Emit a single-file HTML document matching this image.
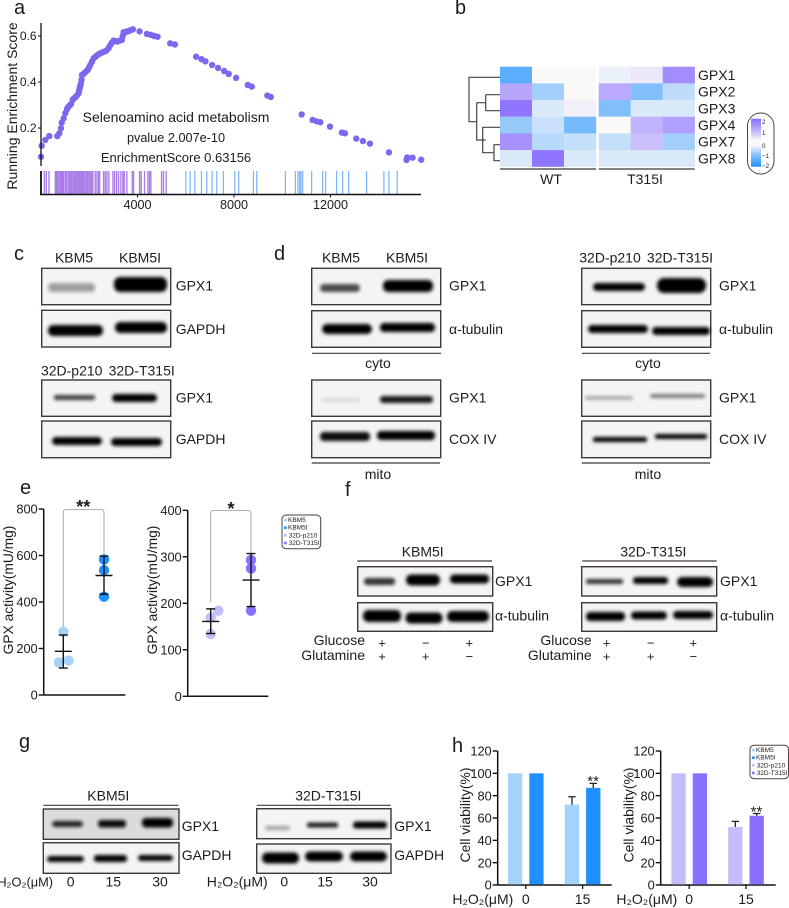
<!DOCTYPE html>
<html><head><meta charset="utf-8"><title>GPX1 figure</title>
<style>
html,body{margin:0;padding:0;background:#fff}
svg{display:block;filter:blur(.3px)}
text{font-family:"Liberation Sans",sans-serif;fill:#1c1c1c}
.pl{font-size:20px}
.lb{font-size:14px}
.tk{font-size:12.8px}
.fr{stroke:#3f3836;stroke-width:1.4;fill:#f4f4f4}
.bd{filter:url(#blur);fill:#050505}
.hl{stroke:#3f3836;stroke-width:1.2}
.pm{font-size:13px;text-anchor:middle}
.m{text-anchor:middle}
.e{text-anchor:end}
</style></head>
<body>
<svg id="fig" width="789" height="908" viewBox="0 0 789 908" xmlns="http://www.w3.org/2000/svg">
<defs>
<filter id="blur" x="-30%" y="-100%" width="160%" height="300%"><feGaussianBlur stdDeviation="1.9"/></filter>
<linearGradient id="colorbar-grad" x1="0" y1="0" x2="0" y2="1">
<stop offset="0" stop-color="#8a6eff"/><stop offset=".25" stop-color="#c2b3fb"/><stop offset=".45" stop-color="#faf9f8"/><stop offset=".55" stop-color="#faf9f8"/><stop offset=".75" stop-color="#8cc4fc"/><stop offset="1" stop-color="#1e90ff"/>
</linearGradient>
</defs>

<text class="pl" x="14" y="14">a</text>
<text class="pl" x="455" y="14">b</text>
<text class="pl" x="14" y="260">c</text>
<text class="pl" x="274" y="260">d</text>
<text class="pl" x="20" y="494">e</text>
<text class="pl" x="345" y="496">f</text>
<text class="pl" x="19" y="748">g</text>
<text class="pl" x="452" y="752">h</text>

<!-- panel a -->
<g id="panel-a">
<text transform="translate(17,106) rotate(-90)" class="m" style="font-size:14px">Running Enrichment Score</text>
<text x="176" y="122" class="m" style="font-size:14px">Selenoamino acid metabolism</text>
<text x="176" y="142" class="m" style="font-size:12.7px">pvalue 2.007e-10</text>
<text x="176" y="162" class="m" style="font-size:13px">EnrichmentScore 0.63156</text>
</g>

<!-- panel b -->
<g id="panel-b">
<path d="M500 77.3H469V121.7H476.7M476.7 102.7V140H485.7M485.7 94.7H500M485.7 110.7H500M476.7 102.7H485.7V94.7M485.7 94.7V110.7M476.7 140H482.7V127.3H500M482.7 127.3V152.7H494V144.7H500M494 144.7V160.7H500" fill="none" stroke="#444" stroke-width="1.2"/>
<line class="hl" x1="500" y1="169" x2="596" y2="169"/>
<line class="hl" x1="598.7" y1="169" x2="694.7" y2="169"/>
<text x="551" y="184" class="m lb">WT</text>
<text x="645" y="184" class="m lb">T315I</text>
<rect x="747.5" y="113" width="26.5" height="61" rx="13" fill="#fff" stroke="#4a4240"/>
<rect x="751" y="118.7" width="10" height="48" fill="url(#colorbar-grad)"/>
<text x="762" y="124" style="font-size:6.2px">2</text>
<text x="762" y="135" style="font-size:6.2px">1</text>
<text x="762" y="148" style="font-size:6.2px">0</text>
<text x="762" y="158" style="font-size:6.2px">−1</text>
<text x="762" y="168" style="font-size:6.2px">−2</text>
</g>

<!-- panel c -->
<g id="panel-c">
<text x="74" y="262.7" class="m lb">KBM5</text>
<text x="140" y="262.7" class="m lb">KBM5I</text>
<rect class="fr" x="41.7" y="268.3" width="129" height="36.4"/>
<rect class="bd" x="48" y="283" width="47" height="9" rx="4" opacity=".35"/>
<rect class="bd" x="114" y="277" width="53" height="15" rx="6"/>
<rect class="fr" x="41.7" y="310.3" width="129" height="36.7"/>
<rect class="bd" x="48" y="325" width="55" height="11" rx="5"/>
<rect class="bd" x="115" y="322" width="52" height="11" rx="5"/>
<text x="71.7" y="375.7" class="m lb">32D-p210</text>
<text x="141.7" y="375.7" class="m lb">32D-T315I</text>
<rect class="fr" x="41.7" y="380" width="129" height="36.3"/>
<rect class="bd" x="54" y="395" width="41" height="5" rx="2" opacity=".75"/>
<rect class="bd" x="112" y="394" width="45" height="8" rx="4"/>
<rect class="fr" x="41.7" y="421" width="129" height="36.7"/>
<rect class="bd" x="52" y="437" width="50" height="8" rx="4"/>
<rect class="bd" x="111" y="438" width="51" height="8" rx="4"/>
<text x="175.7" y="290.7" class="lb">GPX1</text>
<text x="175.7" y="334" class="lb">GAPDH</text>
<text x="175.7" y="402.7" class="lb">GPX1</text>
<text x="175.7" y="444" class="lb">GAPDH</text>
</g>

<!-- panel d -->
<g id="panel-d">
<text x="341" y="262.7" class="m lb">KBM5</text>
<text x="407" y="262.7" class="m lb">KBM5I</text>
<rect class="fr" x="311.7" y="268.3" width="129" height="36.4"/>
<rect class="bd" x="320" y="284" width="40" height="8" rx="4" opacity=".7"/>
<rect class="bd" x="383" y="280" width="50" height="12" rx="5"/>
<rect class="fr" x="311.7" y="310.7" width="129" height="36.6"/>
<rect class="bd" x="322" y="324" width="50" height="10" rx="5"/>
<rect class="bd" x="380" y="323" width="55" height="9" rx="4"/>
<line class="hl" x1="312" y1="353.3" x2="441" y2="353.3"/>
<text x="378" y="368" class="m lb">cyto</text>
<rect class="fr" x="311.7" y="380" width="129" height="36.3"/>
<rect class="bd" x="322" y="398" width="38" height="4" rx="2" opacity=".1"/>
<rect class="bd" x="380" y="396" width="53" height="7" rx="3" opacity=".9"/>
<rect class="fr" x="311.7" y="421" width="129" height="36.7"/>
<rect class="bd" x="320" y="432" width="50" height="9" rx="4" opacity=".95"/>
<rect class="bd" x="377" y="431" width="58" height="9" rx="4"/>
<line class="hl" x1="311.7" y1="463" x2="440" y2="463"/>
<text x="378" y="479" class="m lb">mito</text>
<text x="449" y="290.7" class="lb">GPX1</text>
<text x="449" y="334" class="lb">α-tubulin</text>
<text x="449" y="402.7" class="lb">GPX1</text>
<text x="449" y="444" class="lb">COX IV</text>

<text x="610" y="262.7" class="m lb">32D-p210</text>
<text x="680" y="262.7" class="m lb">32D-T315I</text>
<rect class="fr" x="581.7" y="268.3" width="129" height="36.4"/>
<rect class="bd" x="593" y="283" width="52" height="8" rx="4"/>
<rect class="bd" x="657" y="278" width="49" height="15" rx="7"/>
<rect class="fr" x="581.7" y="310.7" width="129" height="36.6"/>
<rect class="bd" x="588" y="325" width="60" height="8" rx="4"/>
<rect class="bd" x="652" y="327" width="58" height="8" rx="4"/>
<line class="hl" x1="582" y1="353.3" x2="710" y2="353.3"/>
<text x="648" y="368" class="m lb">cyto</text>
<rect class="fr" x="581.7" y="380" width="129" height="36.3"/>
<rect class="bd" x="585" y="396" width="48" height="4" rx="2" opacity=".3"/>
<rect class="bd" x="650" y="394" width="55" height="4" rx="2" opacity=".5"/>
<rect class="fr" x="581.7" y="421" width="129" height="36.7"/>
<rect class="bd" x="593" y="437" width="54" height="5" rx="2"/>
<rect class="bd" x="655" y="434" width="52" height="5" rx="2"/>
<line class="hl" x1="581.7" y1="463" x2="710" y2="463"/>
<text x="648" y="479" class="m lb">mito</text>
<text x="719" y="290.7" class="lb">GPX1</text>
<text x="719" y="334" class="lb">α-tubulin</text>
<text x="719" y="402.7" class="lb">GPX1</text>
<text x="719" y="444" class="lb">COX IV</text>
</g>

<!-- panel e static labels -->
<g id="panel-e">
<text transform="translate(13,590) rotate(-90)" class="m" style="font-size:13.8px">GPX activity(mU/mg)</text>
<text transform="translate(157,590) rotate(-90)" class="m" style="font-size:13.8px">GPX activity(mU/mg)</text>
<text x="83.3" y="513" class="m" style="font-size:18px;font-weight:bold">**</text>
<text x="231" y="515" class="m" style="font-size:18px;font-weight:bold">*</text>
<g>
<rect x="282" y="515" width="38.7" height="33.7" rx="4" fill="#fff" stroke="#4a4240"/>
<circle cx="285.3" cy="520" r="1.5" fill="#a3d3f9"/>
<text x="288" y="522" style="font-size:6.5px">KBM5</text>
<circle cx="285.3" cy="527.7" r="1.5" fill="#1e90ff"/>
<text x="288" y="529.7" style="font-size:6.5px">KBM5I</text>
<circle cx="285.3" cy="535.3" r="1.5" fill="#c2befa"/>
<text x="288.7" y="537.3" style="font-size:6.5px">32D-p210</text>
<circle cx="285.3" cy="543" r="1.5" fill="#8a70ff"/>
<text x="288.7" y="545" style="font-size:6.5px">32D-T315I</text>
</g>
</g>

<!-- panel f -->
<g id="panel-f">
<text x="422.7" y="556.7" class="m lb">KBM5I</text>
<line class="hl" x1="357.3" y1="561" x2="492" y2="561"/>
<rect class="fr" x="357.7" y="566.7" width="135" height="29.3"/>
<rect class="bd" x="364" y="578" width="31" height="7" rx="3" opacity=".8"/>
<rect class="bd" x="406" y="574.5" width="34" height="11" rx="5"/>
<rect class="bd" x="450" y="574.5" width="39" height="9" rx="4"/>
<rect class="fr" x="357.7" y="602.7" width="135" height="28.6"/>
<rect class="bd" x="363" y="610" width="38" height="12" rx="5"/>
<rect class="bd" x="405.5" y="612.5" width="37" height="11" rx="5"/>
<rect class="bd" x="447" y="611" width="42" height="11" rx="5"/>
<text x="495" y="586" class="lb">GPX1</text>
<text x="495" y="620.7" class="lb">α-tubulin</text>
<text x="365" y="645" class="e lb">Glucose</text>
<text x="365" y="660" class="e lb">Glutamine</text>
<text x="382" y="647.5" class="pm">+</text>
<text x="425.7" y="647.5" class="pm">−</text>
<text x="469.3" y="647.5" class="pm">+</text>
<text x="382" y="661" class="pm">+</text>
<text x="425.7" y="661" class="pm">+</text>
<text x="469.3" y="661" class="pm">−</text>

<text x="653.3" y="556.7" class="m lb">32D-T315I</text>
<line class="hl" x1="582.3" y1="561" x2="716.7" y2="561"/>
<rect class="fr" x="581.7" y="566.7" width="135" height="29.3"/>
<rect class="bd" x="586" y="579" width="37" height="5" rx="2" opacity=".8"/>
<rect class="bd" x="633" y="577" width="35" height="7" rx="3"/>
<rect class="bd" x="677" y="577" width="36" height="10" rx="5"/>
<rect class="fr" x="581.7" y="602.7" width="135" height="28.6"/>
<rect class="bd" x="586" y="612" width="39" height="9" rx="4"/>
<rect class="bd" x="631" y="611.5" width="36" height="8" rx="4"/>
<rect class="bd" x="673" y="611" width="40" height="8" rx="4"/>
<text x="720" y="586" class="lb">GPX1</text>
<text x="720" y="620.7" class="lb">α-tubulin</text>
<text x="591.7" y="645" class="e lb">Glucose</text>
<text x="591.7" y="660" class="e lb">Glutamine</text>
<text x="606.7" y="647.5" class="pm">+</text>
<text x="650.7" y="647.5" class="pm">−</text>
<text x="693.3" y="647.5" class="pm">+</text>
<text x="606.7" y="661" class="pm">+</text>
<text x="650.7" y="661" class="pm">+</text>
<text x="693.3" y="661" class="pm">−</text>
</g>

<!-- panel g -->
<g id="panel-g">
<text x="108.3" y="800.7" class="m lb">KBM5I</text>
<line class="hl" x1="43.3" y1="805.3" x2="178.3" y2="805.3"/>
<rect class="fr" style="fill:#dcdcdc" x="43.3" y="809" width="135.7" height="30.3"/>
<rect class="bd" x="52" y="821" width="31" height="6" rx="3" opacity=".85"/>
<rect class="bd" x="98" y="820" width="28" height="7.5" rx="3" opacity=".95"/>
<rect class="bd" x="142" y="818" width="31" height="9.5" rx="4"/>
<rect class="fr" x="43.3" y="842.7" width="135.7" height="30.6"/>
<rect class="bd" x="47" y="856" width="37" height="6" rx="3"/>
<rect class="bd" x="94" y="855" width="33" height="7" rx="3"/>
<rect class="bd" x="138" y="855" width="35" height="6" rx="3"/>
<text x="181.7" y="831" class="lb">GPX1</text>
<text x="181.7" y="860" class="lb">GAPDH</text>
<text x="53" y="886.7" class="e" style="font-size:12.8px">H₂O₂(μM)</text>
<text x="70.7" y="886.7" class="m lb">0</text>
<text x="113.3" y="886.7" class="m lb">15</text>
<text x="160" y="886.7" class="m lb">30</text>

<text x="328.3" y="800.7" class="m lb">32D-T315I</text>
<line class="hl" x1="256.7" y1="805.3" x2="390.7" y2="805.3"/>
<rect class="fr" x="256.7" y="808.7" width="134.3" height="30"/>
<rect class="bd" x="265" y="826" width="25" height="4" rx="2" opacity=".35"/>
<rect class="bd" x="307" y="822.5" width="31" height="5" rx="2" opacity=".9"/>
<rect class="bd" x="353" y="821.5" width="34" height="7" rx="3"/>
<rect class="fr" x="256.7" y="844" width="134.3" height="29.3"/>
<rect class="bd" x="262" y="852.5" width="37" height="11" rx="5"/>
<rect class="bd" x="305" y="851.5" width="38" height="10" rx="5"/>
<rect class="bd" x="350" y="851.5" width="37" height="10" rx="5"/>
<text x="394.3" y="831" class="lb">GPX1</text>
<text x="394.3" y="860" class="lb">GAPDH</text>
<text x="267.7" y="886.7" class="e lb">H₂O₂(μM)</text>
<text x="284.3" y="886.7" class="m lb">0</text>
<text x="325" y="886.7" class="m lb">15</text>
<text x="370" y="886.7" class="m lb">30</text>
</g>

<!-- panel h static labels -->
<g id="panel-h">
<text transform="translate(470,815) rotate(-90)" class="m" style="font-size:13.9px">Cell viability(%)</text>
<text transform="translate(633.5,815) rotate(-90)" class="m" style="font-size:13.9px">Cell viability(%)</text>
<text x="513.3" y="904" class="e lb">H₂O₂(μM)</text>
<text x="677.3" y="904" class="e lb">H₂O₂(μM)</text>
<g>
<rect x="750" y="745.3" width="38.5" height="33.4" rx="4" fill="#fff" stroke="#4a4240"/>
<circle cx="753.3" cy="750" r="1.5" fill="#a3d3f9"/>
<text x="756" y="752" style="font-size:6.5px">KBM5</text>
<circle cx="753.3" cy="757.7" r="1.5" fill="#1e90ff"/>
<text x="756" y="759.7" style="font-size:6.5px">KBM5I</text>
<circle cx="753.3" cy="765.3" r="1.5" fill="#c2befa"/>
<text x="756.7" y="767.3" style="font-size:6.5px">32D-p210</text>
<circle cx="753.3" cy="773" r="1.5" fill="#8a70ff"/>
<text x="756.7" y="775" style="font-size:6.5px">32D-T315I</text>
</g>
</g>
</svg>

<script>
// ---- panel a data ----
var gseaRanks = [0,28,180,345,676,760,828,856,938,1007,1076,1145,1242,1311,1421,1559,1601,1656,1680,1697,1794,1932,2042,2180,2346,2525,2705,2801,2939,3008,3174,3353,3390,3422,3560,3726,3809,4085,4388,4554,4692,4830,5354,5548,6431,6652,6817,7093,7342,7590,7783,8087,8570,8735,9384,9522,10805,11261,11426,11578,11978,12475,12599,13069,13345,13634,14421,15152,15180,15401,15760,1100,1200,1360,1490,1580,1630,1745,1860,1990,2110,2260,2430,2620,2870,3090,3260,3490,3640];
var gseaScores = [0.075,0.123,0.148,0.165,0.165,0.177,0.199,0.223,0.242,0.264,0.281,0.293,0.304,0.322,0.333,0.351,0.373,0.394,0.41,0.431,0.438,0.452,0.474,0.503,0.518,0.528,0.536,0.547,0.571,0.58,0.576,0.583,0.6,0.616,0.619,0.626,0.629,0.62,0.609,0.605,0.6,0.597,0.568,0.563,0.51,0.499,0.49,0.474,0.461,0.448,0.435,0.418,0.387,0.38,0.341,0.335,0.259,0.235,0.229,0.225,0.206,0.18,0.177,0.154,0.143,0.132,0.094,0.061,0.072,0.071,0.062,0.287,0.299,0.328,0.342,0.362,0.383,0.434,0.445,0.463,0.488,0.51,0.523,0.532,0.56,0.578,0.58,0.617,0.622];
var rugPurple = [138,221,331,593,635,690,745,800,842,897,938,1007,1049,1118,1159,1214,1270,1325,1380,1435,1490,1532,1587,1628,1670,1725,1766,1822,1877,1932,1987,2042,2098,2153,2249,2318,2387,2429,2594,2663,2732,2815,2981,3050,3133,3215,3312,3395,3450,3560,3781,3836,4085,4154,4292,4430,4499,4554,4996,5078,5189];
var rugBlue = [6003,6182,6376,6652,6872,7093,7286,7562,8032,8197,8804,8942,10129,10543,10654,10723,10778,10847,11219,11675,11799,12254,12503,12751,13496,14214,14421,14766];
var gseaYTicks = [0.2,0.4,0.6];
var gseaXTicks = [4000,8000,12000];

// ---- panel b data ----
var heatGenes = ['GPX1','GPX2','GPX3','GPX4','GPX7','GPX8'];
var heatValues = [
  [-1.45,0,0,-0.15,0.25,1.55],
  [1.2,-0.8,0,1.15,-1.1,-0.55],
  [1.9,-0.3,0.15,-1.1,-0.3,-0.3],
  [-0.9,-0.45,-1.2,0,1.0,1.3],
  [1.5,-0.6,-0.5,-0.5,0.85,-0.8],
  [-0.3,1.9,-0.3,-0.3,-0.3,-0.3]
];

// ---- panel e data ----
var activityTicksA = [0,200,400,600,800];
var activityTicksB = [0,100,200,300,400];
var kbm5Points = [272,140,148];
var kbm5iPoints = [583,537,423];
var p210Points = [184,169,134];
var t315iPoints = [293,275,184];
var kbm5Stats = [188,116,258];
var kbm5iStats = [514,433,597];
var p210Stats = [161,135,188];
var t315iStats = [250,193,307];
var kbm5Jitter = [0,-0.107,0.13];
var kbm5iJitter = [0,0,0];
var p210Jitter = [0.19,0,0];
var t315iJitter = [0,0,0];

// ---- panel h data ----
var viabilityTicks = [0,20,40,60,80,100,120];
var doses = ['0','15'];
var kbmMeans = [100,100,72,87];
var kbmUpper = [100,100,79,91];
var cmlMeans = [100,100,52,62];
var cmlUpper = [100,100,57,64];

var NS = 'http://www.w3.org/2000/svg';
function mk(parent, tag, attrs, txt){
  var n = document.createElementNS(NS, tag);
  for (var k in attrs) n.setAttribute(k, attrs[k]);
  if (txt !== undefined) n.textContent = txt;
  parent.appendChild(n);
  return n;
}

// panel a
(function(){
  var g = document.getElementById('panel-a');
  function x(r){ return 41 + r * 96.5 / 4000; }
  function y(v){ return 128 - (v - 0.2) * 230; }
  var n;
  rugPurple.forEach(function(r){
    n = mk(g,'line',{x1:x(r),x2:x(r),y1:171,y2:194,stroke:'#a97ce8','stroke-width':1.35});
    
    
  });
  rugBlue.forEach(function(r){
    n = mk(g,'line',{x1:x(r),x2:x(r),y1:171,y2:194,stroke:'#7ab4f5','stroke-width':1.2});
    
    
  });
  gseaRanks.forEach(function(r,i){
    n = mk(g,'circle',{cx:x(r),cy:y(gseaScores[i]),r:3.2,fill:'#7b68ee'});
    
    
  });
  n = mk(g,'line',{x1:41,x2:41,y1:23,y2:166,stroke:'#111','stroke-width':1.3});
  
  
  n = mk(g,'line',{x1:41,x2:41,y1:171,y2:195,stroke:'#111','stroke-width':1.8});
  
  
  n = mk(g,'line',{x1:40,x2:421,y1:194.5,y2:194.5,stroke:'#111','stroke-width':1.4});
  
  
  gseaYTicks.forEach(function(v){
    n = mk(g,'line',{x1:38,x2:41,y1:y(v),y2:y(v),stroke:'#111','stroke-width':1});
    
    
    n = mk(g,'text',{x:36.5,y:y(v)+4,'text-anchor':'end',style:'font-size:12px'},v.toFixed(1));
    
    
  });
  gseaXTicks.forEach(function(v){
    n = mk(g,'line',{x1:x(v),x2:x(v),y1:194.5,y2:197.5,stroke:'#111','stroke-width':1});
    
    
    n = mk(g,'text',{x:x(v),y:209,'text-anchor':'middle',style:'font-size:12.6px'},String(v));
    
    
  });
})();

// panel b
(function(){
  var g = document.getElementById('panel-b');
  var zero = [250,249,248], hi = [138,110,255], lo = [30,144,255];
  function color(v){
    var t = Math.min(1, Math.abs(v) / 2), end = v > 0 ? hi : lo;
    return 'rgb(' + zero.map(function(c,i){ return Math.round(c + (end[i] - c) * t); }).join(',') + ')';
  }
  function colX(c){ return 500 + 32 * c + (c >= 3 ? 2.7 : 0); }
  function rowY(r){ return 66.7 + 16.67 * r; }
  var n;
  heatValues.forEach(function(row,r){
    row.forEach(function(v,c){
      n = mk(g,'rect',{x:colX(c),y:rowY(r),width:32.2,height:16.8,fill:color(v)});
      
      
    });
    n = mk(g,'text',{x:698,y:rowY(r)+13.3,style:'font-size:14px'},heatGenes[r]);
    
    
  });
})();

function yAxis(g, axisX, top, bottom, xEnd, y, ticks){
  var n = mk(g,'line',{x1:axisX,x2:axisX,y1:top,y2:bottom,stroke:'#111','stroke-width':1.5});
  
  
  n = mk(g,'line',{x1:axisX,x2:xEnd,y1:bottom,y2:bottom,stroke:'#111','stroke-width':1.5});
  
  
  ticks.forEach(function(v){
    n = mk(g,'line',{x1:axisX-5,x2:axisX,y1:y(v),y2:y(v),stroke:'#111','stroke-width':1.4});
    
    
    n = mk(g,'text',{x:axisX-6,y:y(v)+4.6,'text-anchor':'end','class':'tk'},String(v));
    
    
  });
}

// panel e
(function(){
  var g = document.getElementById('panel-e');
  function scatter(axisX, x0, step, y, ticks, xEnd, top, bottom, a, b, topY){
    yAxis(g, axisX, top, bottom, xEnd, y, ticks);
    function x(c){ return x0 + step * c; }
    var n = mk(g,'path',{d:'M'+x(0)+' '+y(a.stats[2]+14)+'V'+(topY+3)+'Q'+x(0)+' '+topY+' '+(x(0)+3)+' '+topY+'H'+(x(1)-3)+'Q'+x(1)+' '+topY+' '+x(1)+' '+(topY+3)+'V'+y(b.stats[2]),fill:'none',stroke:'#b0b0b0','stroke-width':1.1});
    
    
    [a,b].forEach(function(s,c){
      s.points.forEach(function(v,i){
        n = mk(g,'circle',{cx:x(c+s.jitter[i]),cy:y(v),r:5.2,fill:s.color});
        
        
      });
      n = mk(g,'line',{x1:x(c),x2:x(c),y1:y(s.stats[1]),y2:y(s.stats[2]),stroke:'#111','stroke-width':1.4});
      
      
      n = mk(g,'line',{x1:x(c)-4.5,x2:x(c)+4.5,y1:y(s.stats[1]),y2:y(s.stats[1]),stroke:'#111','stroke-width':1.4});
      
      
      n = mk(g,'line',{x1:x(c)-4.5,x2:x(c)+4.5,y1:y(s.stats[2]),y2:y(s.stats[2]),stroke:'#111','stroke-width':1.4});
      
      
      n = mk(g,'line',{x1:x(c)-8.5,x2:x(c)+8.5,y1:y(s.stats[0]),y2:y(s.stats[0]),stroke:'#111','stroke-width':1.4});
      
      
    });
  }
  scatter(43.7, 63.3, 40.7, function(v){ return 695 - v * 0.2325; }, activityTicksA, 125.3, 509, 695,
    {points:kbm5Points,jitter:kbm5Jitter,stats:kbm5Stats,color:'#a3d3f9'},
    {points:kbm5iPoints,jitter:kbm5iJitter,stats:kbm5iStats,color:'#1e90ff'}, 509.5);
  scatter(187.7, 210.7, 40.3, function(v){ return 696.3 - v * 0.465; }, activityTicksB, 268.3, 510.3, 696.3,
    {points:p210Points,jitter:p210Jitter,stats:p210Stats,color:'#c2befa'},
    {points:t315iPoints,jitter:t315iJitter,stats:t315iStats,color:'#8a70ff'}, 510.5);
})();

// panel h
(function(){
  var g = document.getElementById('panel-h');
  function bars(axisX, group0, xEnd, means, upper, light, dark, starY){
    function y(v){ return 885 - v * 1.1167; }
    function gx(i){ return group0 + 56.8 * i; }
    yAxis(g, axisX, 751, 885, xEnd, y, viabilityTicks);
    var n;
    means.forEach(function(v,i){
      var cx = gx(Math.floor(i/2)) + (i % 2 ? 10.65 : -10.65);
      n = mk(g,'rect',{x:cx-7.15,y:y(v),width:14.3,height:885-y(v)-0.6,fill:i % 2 ? dark : light});
      
      
      if (upper[i] > v) {
        n = mk(g,'path',{d:'M'+cx+' '+y(v)+'V'+y(upper[i])+'M'+(cx-3.7)+' '+y(upper[i])+'H'+(cx+3.7),fill:'none',stroke:'#222','stroke-width':1.3});
        
        
      }
    });
    doses.forEach(function(d,i){
      n = mk(g,'line',{x1:gx(i),x2:gx(i),y1:885,y2:889,stroke:'#111','stroke-width':1.3});
      
      
      n = mk(g,'text',{x:gx(i),y:904,'text-anchor':'middle','class':'lb'},d);
      
      
    });
    n = mk(g,'text',{x:gx(1)+10.5,y:y(starY)+5,'text-anchor':'middle',style:'font-size:15px'},'**');
    
    
  }
  bars(497.7, 525.8, 611.7, kbmMeans, kbmUpper, '#a3d3f9', '#1e90ff', 93);
  bars(660.7, 689.2, 775.7, cmlMeans, cmlUpper, '#c2befa', '#8a70ff', 66);
})();
</script>
</body></html>
